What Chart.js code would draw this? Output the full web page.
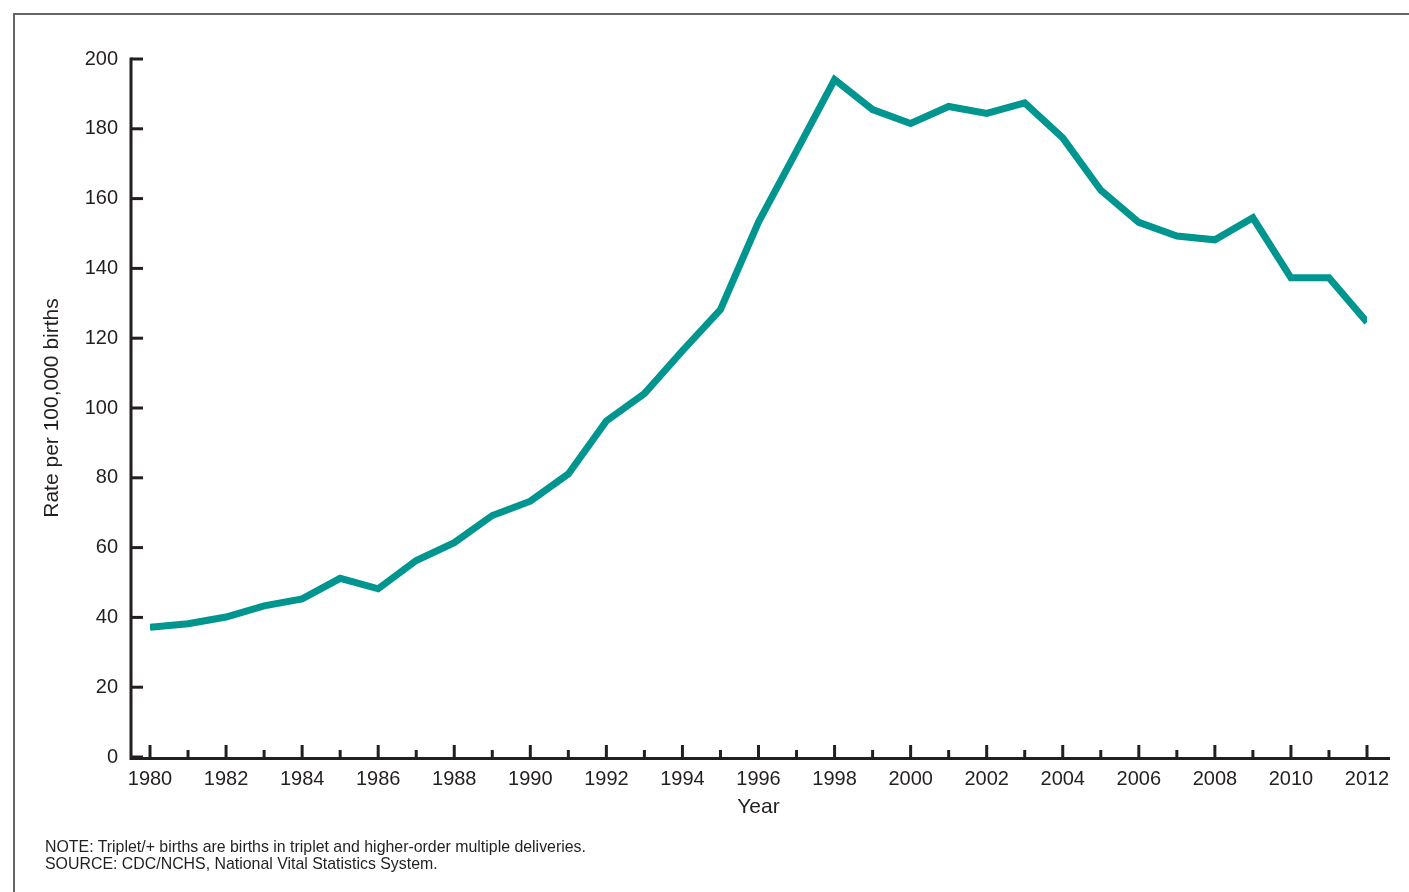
<!DOCTYPE html>
<html>
<head>
<meta charset="utf-8">
<script src="https://cdn.jsdelivr.net/npm/chart.js@4"></script>
<style>
  body { margin: 0; background: #fff; }
  #frame {
    position: absolute; left: 13px; top: 13px; width: 1500px; height: 1000px;
    border-top: 2px solid #666; border-left: 2px solid #666;
  }
  #wrap { position: absolute; left: 0; top: 0; width: 1409px; height: 892px; }
  #notes {
    position: absolute; left: 45px; top: 838px;
    font-family: "Liberation Sans", Arial, sans-serif; font-size: 15.9px;
    line-height: 17px; color: #231f20;
  }
</style>
</head>
<body>
<div id="frame"></div>
<div id="wrap"><canvas id="chart" width="1409" height="892"></canvas></div>
<div id="notes">
  NOTE: Triplet/+ births are births in triplet and higher-order multiple deliveries.<br>
  SOURCE: CDC/NCHS, National Vital Statistics System.
</div>
<script>
// Datos
const years = [1980, 1981, 1982, 1983, 1984, 1985, 1986, 1987, 1988, 1989, 1990,
               1991, 1992, 1993, 1994, 1995, 1996, 1997, 1998, 1999, 2000,
               2001, 2002, 2003, 2004, 2005, 2006, 2007, 2008, 2009, 2010, 2011, 2012];
const rates = [37.2, 38.2, 40.1, 43.3, 45.3, 51.2, 48.2, 56.3, 61.4, 69.2, 73.3,
               81.1, 96.3, 104.1, 116.4, 128.2, 153.3, 173.6, 194.1, 185.5, 181.5,
               186.4, 184.4, 187.4, 177.4, 162.4, 153.2, 149.3, 148.2, 154.5, 137.3, 137.3, 124.6];
const xTickYears = [1980, 1982, 1984, 1986, 1988, 1990, 1992, 1994, 1996,
                    1998, 2000, 2002, 2004, 2006, 2008, 2010, 2012];
const yTickValues = [0, 20, 40, 60, 80, 100, 120, 140, 160, 180, 200];

const AXIS_COLOR = '#231f20';
const LINE_COLOR = '#00958f';
const FONT = '"Liberation Sans", Arial, sans-serif';

// Ejes con marcas hacia adentro
const axesPlugin = {
  id: 'axesPlugin',
  afterDatasetsDraw(chart) {
    const { ctx, chartArea, scales } = chart;
    const x = scales.x, y = scales.y;
    const axisX = chartArea.left - 19;
    const baseY = y.getPixelForValue(0);
    ctx.save();
    ctx.strokeStyle = AXIS_COLOR;
    ctx.lineWidth = 3;
    ctx.lineCap = 'butt';
    ctx.beginPath();
    ctx.moveTo(axisX, y.getPixelForValue(200) - 1.5);
    ctx.lineTo(axisX, baseY + 1.5);
    ctx.lineTo(chartArea.right + 23, baseY + 1.5);
    ctx.stroke();
    // marcas eje Y
    yTickValues.forEach(v => {
      const py = y.getPixelForValue(v);
      ctx.beginPath();
      ctx.moveTo(axisX, py);
      ctx.lineTo(axisX + 12, py);
      ctx.stroke();
    });
    // marcas eje X (pares largas, impares cortas)
    years.forEach(yr => {
      const px = x.getPixelForValue(yr);
      const len = (yr % 2 === 0) ? 12 : 7;
      ctx.beginPath();
      ctx.moveTo(px, baseY);
      ctx.lineTo(px, baseY - len);
      ctx.stroke();
    });
    ctx.restore();
  }
};

const ctx = document.getElementById('chart').getContext('2d');
new Chart(ctx, {
  type: 'line',
  data: {
    datasets: [{
      label: 'Triplet/+ birth rate',
      data: years.map((yr, i) => ({ x: yr, y: rates[i] })),
      borderColor: LINE_COLOR,
      borderWidth: 7,
      pointRadius: 0,
      tension: 0,
      borderJoinStyle: 'miter',
      fill: false
    }]
  },
  options: {
    responsive: false,
    animation: false,
    devicePixelRatio: 1,
    layout: { padding: { left: 0, top: 59, right: 42, bottom: 65 } },
    plugins: { legend: { display: false }, tooltip: { enabled: false } },
    scales: {
      x: {
        type: 'linear',
        min: 1980, max: 2012,
        afterBuildTicks: s => { s.ticks = xTickYears.map(v => ({ value: v })); },
        afterFit: s => { s.height = 70; },
        grid: { display: false, drawTicks: false },
        border: { display: false },
        ticks: {
          padding: 10,
          color: AXIS_COLOR,
          font: { family: FONT, size: 20 },
          maxRotation: 0,
          autoSkip: false,
          callback: v => String(v)
        },
        title: {
          display: true, text: 'Year', color: AXIS_COLOR,
          font: { family: FONT, size: 21 },
          padding: { top: 0, bottom: 7 }
        }
      },
      y: {
        min: 0, max: 200,
        afterBuildTicks: s => { s.ticks = yTickValues.map(v => ({ value: v })); },
        afterFit: s => { s.width = 150; },
        grid: { display: false, drawTicks: false },
        border: { display: false },
        ticks: {
          padding: 32,
          color: AXIS_COLOR,
          font: { family: FONT, size: 20 },
          callback: v => String(v)
        },
        title: {
          display: true, text: 'Rate per 100,000 births', color: AXIS_COLOR,
          font: { family: FONT, size: 21 },
          padding: { top: 40, bottom: 0 }
        }
      }
    }
  },
  plugins: [axesPlugin]
});
</script>
</body>
</html>
